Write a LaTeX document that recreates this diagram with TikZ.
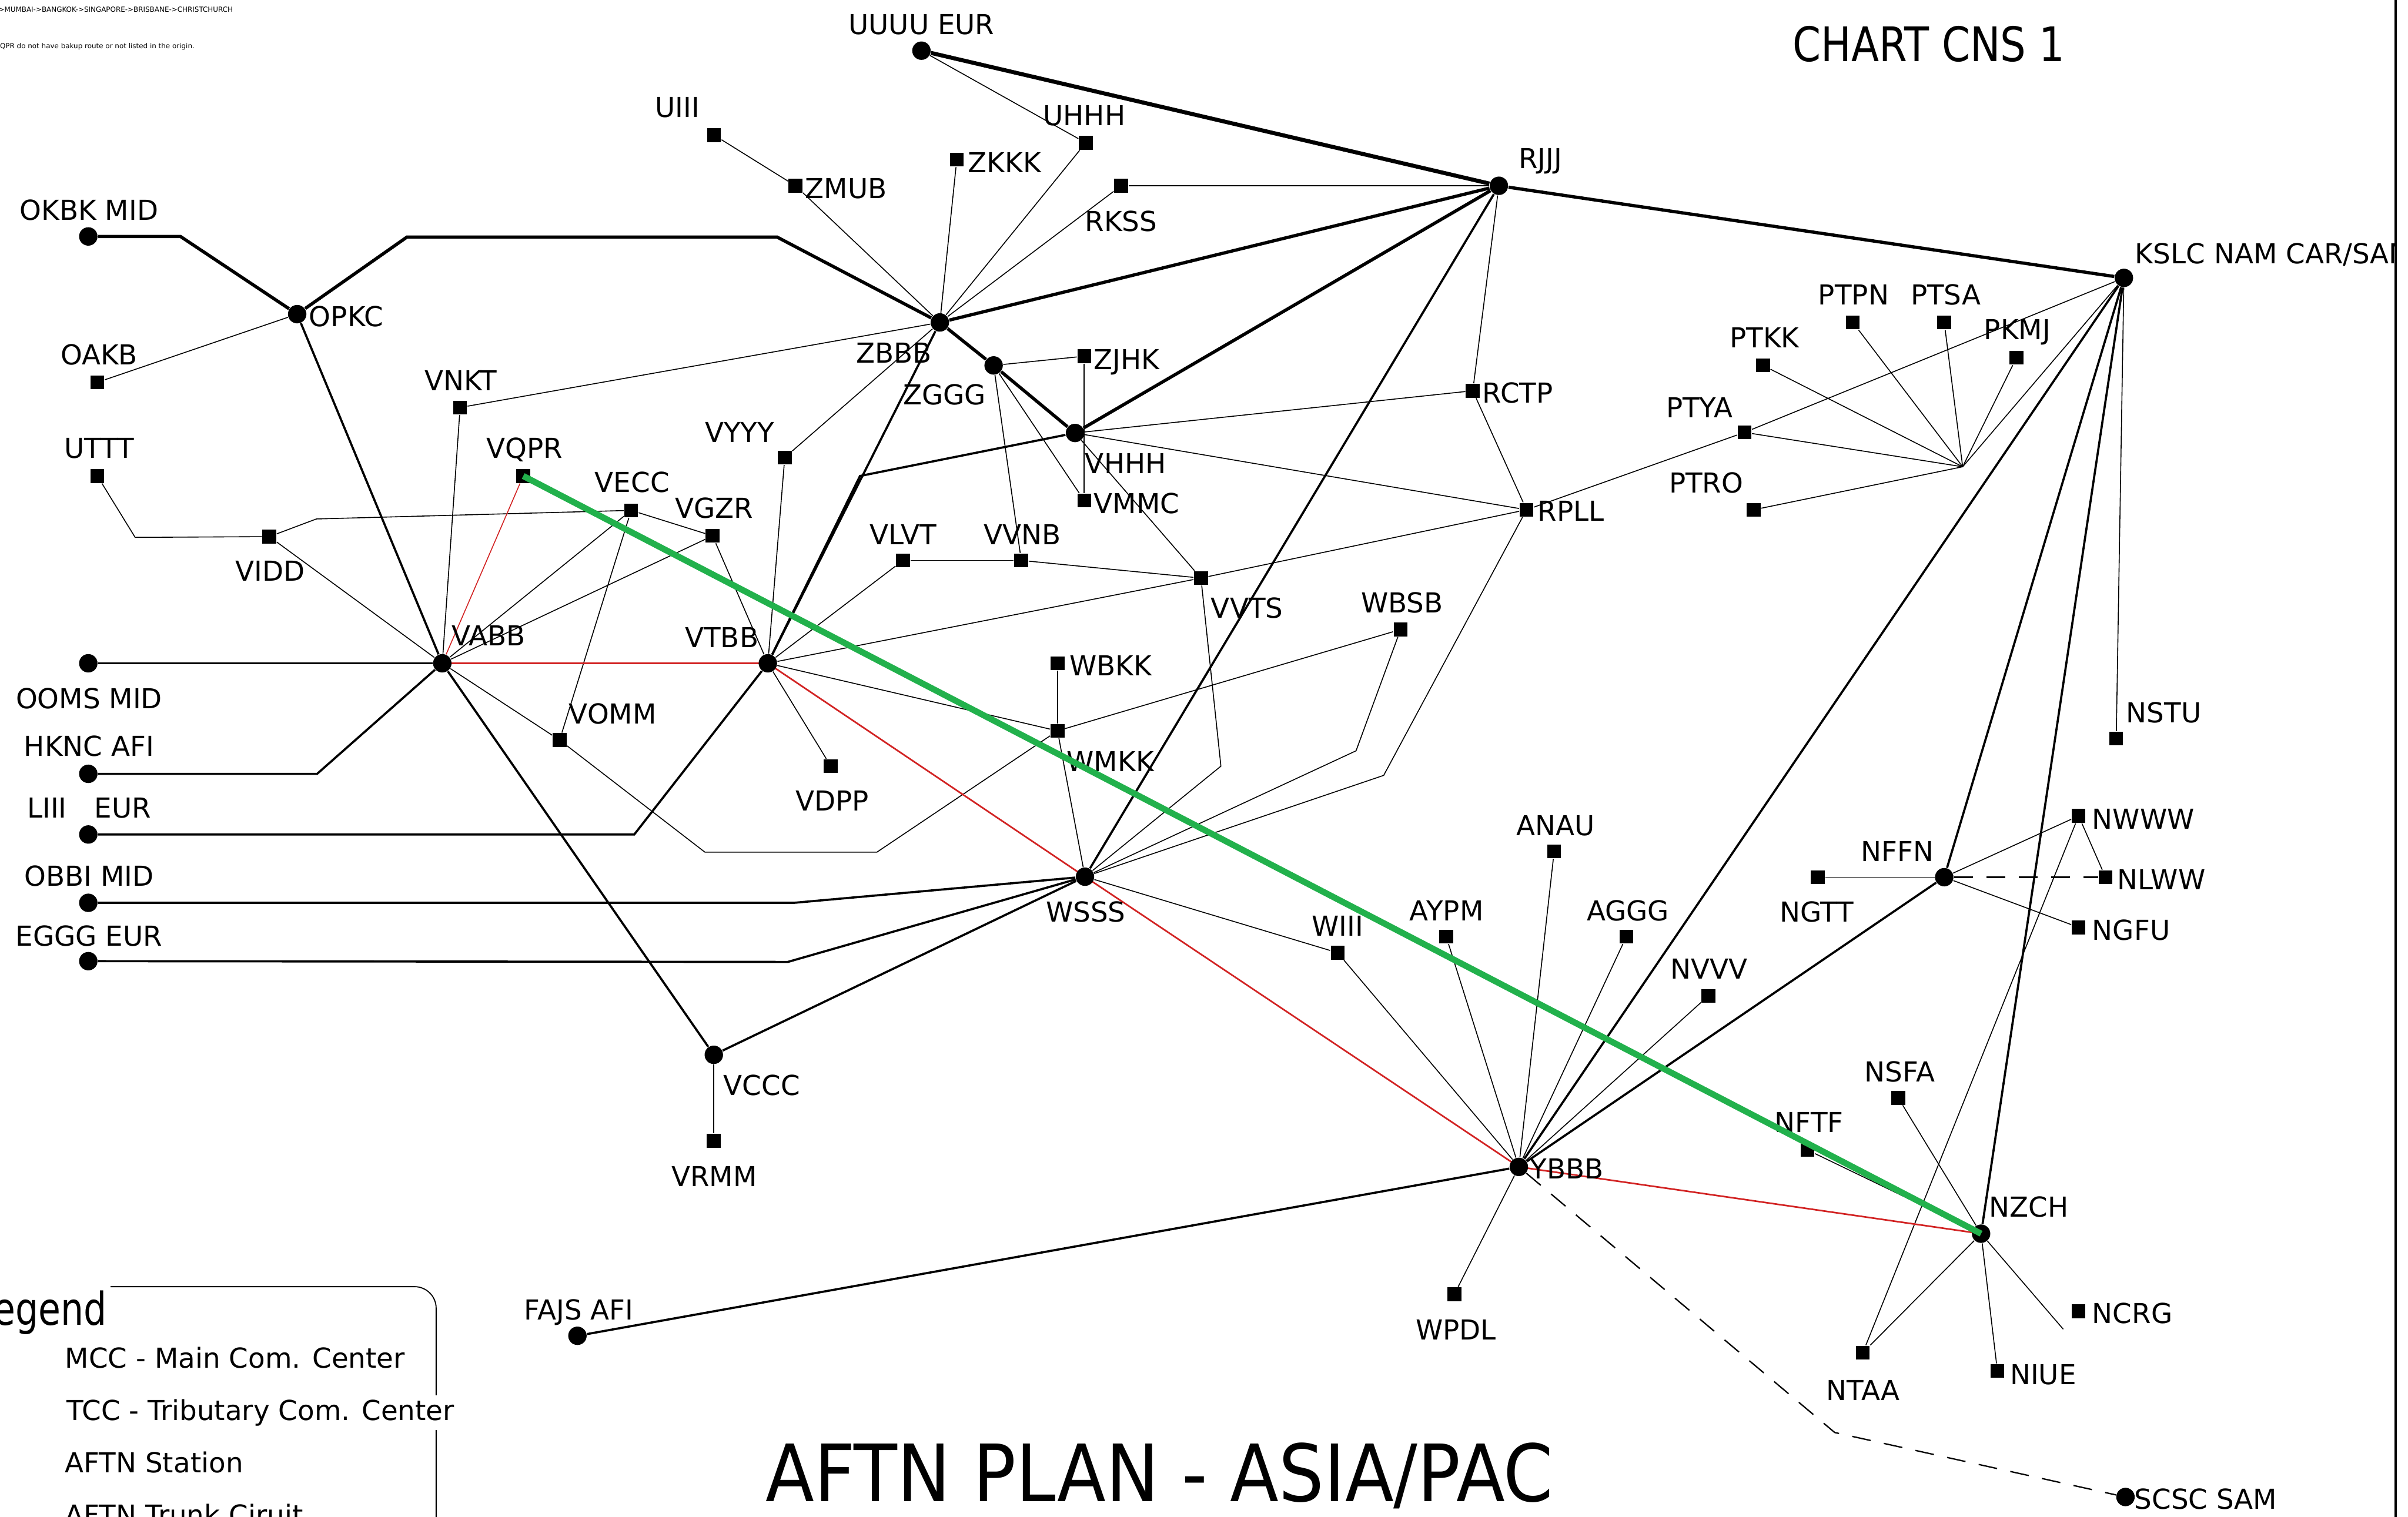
\documentclass[tikz,border=0pt]{standalone}
\usepackage{fontspec}
\setmainfont{DejaVu Sans}
\newfontfamily\titlefont{DejaVu Sans}[FakeStretch=0.9]
\newfontfamily\chartfont{DejaVu Sans}[FakeStretch=0.85]
\newfontfamily\legfont{DejaVu Sans}[FakeStretch=0.8]
\usetikzlibrary{backgrounds}
\definecolor{myred}{RGB}{210,35,35}
\definecolor{mygreen}{RGB}{34,177,76}
\tikzset{
 mcc/.style={circle, fill=black, inner sep=0pt, minimum size=0.24cm},
 aftn/.style={rectangle, fill=black, inner sep=0pt, minimum size=0.18cm},
 lbl/.style={font=\fontsize{10.2}{12}\selectfont, inner sep=0pt, text height=7.44pt, text depth=0pt},
 trunk/.style={line width=1.2pt},
 midl/.style={line width=0.8pt},
 thinl/.style={line width=0.35pt},
 redl/.style={draw=myred, line width=0.6pt},
 redthin/.style={draw=myred, line width=0.35pt},
 greenl/.style={draw=mygreen, line width=2.3pt},
 dashl/.style={line width=0.5pt, dash pattern=on 7pt off 5pt},
 legtxt/.style={font=\fontsize{10.2}{12}\selectfont, inner sep=0pt, anchor=base west},
}
\begin{document}
\begin{tikzpicture}[x=0.02cm,y=-0.02cm]
\useasboundingbox (0,0) rectangle (1568,988);

% ---------- MCC nodes ----------
\node[mcc] (UUUU) at (600,33) {};
\node[mcc] (RJJJ) at (976,121) {};
\node[mcc] (KSLC) at (1383,181) {};
\node[mcc] (OKBK) at (57.5,154) {};
\node[mcc] (OPKC) at (193.5,204.6) {};
\node[mcc] (ZBBB) at (612,210) {};
\node[mcc] (ZGGG) at (647,238) {};
\node[mcc] (VHHH) at (700,282) {};
\node[mcc] (VABB) at (288,432) {};
\node[mcc] (VTBB) at (500,432) {};
\node[mcc] (OOMS) at (57.5,432) {};
\node[mcc] (HKNC) at (57.5,504) {};
\node[mcc] (LIII) at (57.5,543.5) {};
\node[mcc] (OBBI) at (57.5,588) {};
\node[mcc] (EGGG) at (57.5,626) {};
\node[mcc] (WSSS) at (706.5,571) {};
\node[mcc] (VCCC) at (464.8,687) {};
\node[mcc] (NFFN) at (1266,571.3) {};
\node[mcc] (YBBB) at (989,760) {};
\node[mcc] (NZCH) at (1290,803.5) {};
\node[mcc] (FAJS) at (376,870) {};
\node[mcc] (SCSC) at (1384,975) {};

% ---------- AFTN stations ----------
\node[aftn] (UIII) at (465,88) {};
\node[aftn] (UHHH) at (707,93) {};
\node[aftn] (ZKKK) at (623,104) {};
\node[aftn] (ZMUB) at (518,121) {};
\node[aftn] (RKSS) at (730,121) {};
\node[aftn] (OAKB) at (63.4,249) {};
\node[aftn] (ZJHK) at (706,232) {};
\node[aftn] (RCTP) at (959,254.5) {};
\node[aftn] (VNKT) at (299.6,265.4) {};
\node[aftn] (VYYY) at (511,298) {};
\node[aftn] (UTTT) at (63.4,310) {};
\node[aftn] (VQPR) at (340.7,310) {};
\node[aftn] (VMMC) at (706,326) {};
\node[aftn] (VECC) at (411,332.4) {};
\node[aftn] (RPLL) at (994,332) {};
\node[aftn] (VGZR) at (464,349) {};
\node[aftn] (VIDD) at (175.4,349.5) {};
\node[aftn] (VLVT) at (588,365) {};
\node[aftn] (VVNB) at (665,365) {};
\node[aftn] (VVTS) at (782,376.5) {};
\node[aftn] (WBSB) at (912,410) {};
\node[aftn] (WBKK) at (688.6,432) {};
\node[aftn] (WMKK) at (688.6,476) {};
\node[aftn] (VOMM) at (364.4,482) {};
\node[aftn] (VDPP) at (541,499) {};
\node[aftn] (NSTU) at (1378,481) {};
\node[aftn] (NWWW) at (1353.5,531.4) {};
\node[aftn] (ANAU) at (1012,554.5) {};
\node[aftn] (NGTT) at (1183.7,571.3) {};
\node[aftn] (NLWW) at (1371,571.3) {};
\node[aftn] (NGFU) at (1353.5,604) {};
\node[aftn] (AYPM) at (941.7,610) {};
\node[aftn] (AGGG) at (1059,610) {};
\node[aftn] (WIII) at (871,620.5) {};
\node[aftn] (NVVV) at (1112.4,648.6) {};
\node[aftn] (NSFA) at (1236,715) {};
\node[aftn] (VRMM) at (464.8,743) {};
\node[aftn] (NFTF) at (1177,749) {};
\node[aftn] (WPDL) at (947,843) {};
\node[aftn] (NCRG) at (1353.5,854) {};
\node[aftn] (NTAA) at (1213,881) {};
\node[aftn] (NIUE) at (1300.6,892.8) {};
\node[aftn] (PTPN) at (1206.5,210) {};
\node[aftn] (PTSA) at (1266,210) {};
\node[aftn] (PKMJ) at (1313,233) {};
\node[aftn] (PTKK) at (1148,238) {};
\node[aftn] (PTYA) at (1136,281.6) {};
\node[aftn] (PTRO) at (1142,332) {};

% ---------- bend points ----------
\coordinate (c1) at (117.5,154);
\coordinate (c2) at (265,154.4);
\coordinate (c3) at (506,154.4);
\coordinate (c4) at (560,310);
\coordinate (c5) at (206.5,504);
\coordinate (c6) at (413,543.5);
\coordinate (c7) at (517,588);
\coordinate (c8) at (513,626.5);
\coordinate (hub) at (1278,304);
\coordinate (cUT) at (88,350);
\coordinate (cVI) at (206,338);
\coordinate (cVO1) at (459,555);
\coordinate (cVO2) at (571,555);
\coordinate (cVV) at (795,499);
\coordinate (cWB) at (883,489);
\coordinate (cRP) at (901,505);
\coordinate (cNC) at (1343.5,865.7);
\coordinate (cSC) at (1194.7,933);

\begin{pgfonlayer}{background}
% trunk circuits
\draw[trunk] (OKBK) -- (c1) -- (OPKC);
\draw[trunk] (OPKC) -- (c2) -- (c3) -- (ZBBB);
\draw[trunk] (ZBBB) -- (RJJJ);
\draw[line width=1.5pt] (UUUU) -- (RJJJ);
\draw[trunk] (RJJJ) -- (KSLC);
\draw[trunk] (ZBBB) -- (ZGGG) -- (VHHH);
\draw[trunk] (VHHH) -- (RJJJ);
\draw[midl] (VHHH) -- (c4) -- (VTBB);
\draw[midl] (ZBBB) -- (VTBB);
\draw[midl] (OPKC) -- (VABB);
\draw[midl] (OOMS) -- (VABB);
\draw[midl] (HKNC) -- (c5) -- (VABB);
\draw[midl] (LIII) -- (c6) -- (VTBB);
\draw[midl] (OBBI) -- (c7) -- (WSSS);
\draw[midl] (EGGG) -- (c8) -- (WSSS);
\draw[midl] (WSSS) -- (VCCC);
\draw[midl] (VABB) -- (VCCC);
\draw[midl] (WSSS) -- (RJJJ);
\draw[midl] (YBBB) -- (KSLC);
\draw[midl] (YBBB) -- (NFFN);
\draw[midl] (NFFN) -- (KSLC);
\draw[midl] (NZCH) -- (KSLC);
\draw[midl] (YBBB) -- (FAJS);

% tributary / station links
\draw[thinl] (UUUU) -- (UHHH);
\draw[thinl] (UHHH) -- (ZBBB);
\draw[thinl] (UIII) -- (ZMUB);
\draw[thinl] (ZMUB) -- (ZBBB);
\draw[thinl] (ZKKK) -- (ZBBB);
\draw[thinl] (RKSS) -- (ZBBB);
\draw[thinl] (RKSS) -- (RJJJ);
\draw[thinl] (OAKB) -- (OPKC);
\draw[thinl] (VNKT) -- (ZBBB);
\draw[thinl] (VNKT) -- (VABB);
\draw[thinl] (ZBBB) -- (VYYY);
\draw[thinl] (VYYY) -- (VTBB);
\draw[thinl] (ZGGG) -- (ZJHK);
\draw[thinl] (ZJHK) -- (VMMC);
\draw[thinl] (ZGGG) -- (VMMC);
\draw[thinl] (ZGGG) -- (VVNB);
\draw[thinl] (VHHH) -- (VVTS);
\draw[thinl] (VHHH) -- (RCTP);
\draw[thinl] (VHHH) -- (RPLL);
\draw[thinl] (RJJJ) -- (RCTP);
\draw[thinl] (RCTP) -- (RPLL);
\draw[thinl] (RPLL) -- (PTYA) -- (KSLC);
\draw[thinl] (hub) -- (PTKK);
\draw[thinl] (hub) -- (PTPN);
\draw[thinl] (hub) -- (PTSA);
\draw[thinl] (hub) -- (PKMJ);
\draw[thinl] (hub) -- (PTYA);
\draw[thinl] (hub) -- (PTRO);
\draw[thinl] (hub) -- (KSLC);
\draw[thinl] (KSLC) -- (NSTU);
\draw[thinl] (UTTT) -- (cUT) -- (VIDD);
\draw[thinl] (VIDD) -- (cVI) -- (VECC);
\draw[thinl] (VIDD) -- (VABB);
\draw[thinl] (VECC) -- (VGZR);
\draw[thinl] (VECC) -- (VABB);
\draw[thinl] (VECC) -- (VOMM);
\draw[thinl] (VGZR) -- (VABB);
\draw[thinl] (VGZR) -- (VTBB);
\draw[thinl] (VABB) -- (VOMM);
\draw[thinl] (VOMM) -- (cVO1) -- (cVO2) -- (WMKK);
\draw[thinl] (VTBB) -- (VLVT);
\draw[thinl] (VLVT) -- (VVNB);
\draw[thinl] (VVNB) -- (VVTS);
\draw[thinl] (VTBB) -- (VVTS);
\draw[thinl] (VVTS) -- (RPLL);
\draw[thinl] (VTBB) -- (VDPP);
\draw[thinl] (VTBB) -- (WMKK);
\draw[thinl] (WMKK) -- (WBKK);
\draw[thinl] (WMKK) -- (WBSB);
\draw[thinl] (WSSS) -- (WMKK);
\draw[thinl] (WSSS) -- (cVV) -- (VVTS);
\draw[thinl] (WSSS) -- (cWB) -- (WBSB);
\draw[thinl] (WSSS) -- (cRP) -- (RPLL);
\draw[thinl] (WSSS) -- (WIII);
\draw[thinl] (WIII) -- (YBBB);
\draw[thinl] (YBBB) -- (AYPM);
\draw[thinl] (YBBB) -- (ANAU);
\draw[thinl] (YBBB) -- (AGGG);
\draw[thinl] (YBBB) -- (NVVV);
\draw[thinl] (YBBB) -- (WPDL);
\draw[thinl] (VCCC) -- (VRMM);
\draw[thinl] (NFFN) -- (NGTT);
\draw[thinl] (NFFN) -- (NWWW);
\draw[thinl] (NFFN) -- (NGFU);
\draw[thinl] (NWWW) -- (NLWW);
\draw[thinl] (NWWW) -- (NTAA);
\draw[thinl] (NZCH) -- (NTAA);
\draw[thinl] (NZCH) -- (NIUE);
\draw[thinl] (NZCH) -- (cNC);
\draw[thinl] (NZCH) -- (NSFA);
\draw[thinl] (NFTF) -- (NZCH);
\draw[dashl] (NFFN) -- (NLWW);
\draw[dashl] (YBBB) -- (cSC) -- (SCSC);

% backup route (red)
\draw[redthin] (VQPR) -- (VABB);
\draw[redl] (VABB.center) -- (VTBB.center) -- (WSSS.center) -- (YBBB.center) -- (NZCH.center);
\end{pgfonlayer}

% ---------- labels ----------
\node[lbl] (lUUUU) at (600,16) {UUUU EUR};
\node[lbl] (lUIII) at (441,70) {UIII};
\node[lbl] (lUHHH) at (706,75) {UHHH};
\node[lbl, anchor=west] (lZKKK) at (630,106) {ZKKK};
\node[lbl, anchor=west] (lZMUB) at (524,122.5) {ZMUB};
\node[lbl] (lRKSS) at (730,144) {RKSS};
\node[lbl] (lRJJJ) at (1003,103) {RJJJ};
\begin{scope}
\clip (0,0) rectangle (1559,988);
\node[lbl, anchor=west] (lKSLC) at (1390,165) {KSLC NAM CAR/SAM};
\end{scope}
\node[lbl] (lOKBK) at (58,137) {OKBK MID};
\node[lbl, anchor=west] (lOPKC) at (201,206) {OPKC};
\node[lbl] (lOAKB) at (64.5,231) {OAKB};
\node[lbl] (lZBBB) at (582,230) {ZBBB};
\node[lbl] (lZGGG) at (615,257) {ZGGG};
\node[lbl, anchor=west] (lZJHK) at (712,234) {ZJHK};
\node[lbl] (lVHHH) at (733,302) {VHHH};
\node[lbl, anchor=west] (lVMMC) at (712,328) {VMMC};
\node[lbl, anchor=west] (lRCTP) at (965,255.7) {RCTP};
\node[lbl, anchor=west] (lRPLL) at (1001,333) {RPLL};
\node[lbl] (lVNKT) at (300,248) {VNKT};
\node[lbl] (lUTTT) at (64.5,292) {UTTT};
\node[lbl] (lVQPR) at (341.6,292) {VQPR};
\node[lbl] (lVYYY) at (481.6,281.5) {VYYY};
\node[lbl] (lVECC) at (411.6,314) {VECC};
\node[lbl] (lVGZR) at (465,331) {VGZR};
\node[lbl] (lVIDD) at (176,372) {VIDD};
\node[lbl] (lVLVT) at (588,348) {VLVT};
\node[lbl] (lVVNB) at (665.7,348) {VVNB};
\node[lbl] (lVVTS) at (812,396) {VVTS};
\node[lbl] (lWBSB) at (913,392.7) {WBSB};
\node[lbl] (lVABB) at (318,414) {VABB};
\node[lbl] (lVTBB) at (470,415) {VTBB};
\node[lbl, anchor=west] (lWBKK) at (696,433.6) {WBKK};
\node[lbl] (lOOMS) at (58,455) {OOMS MID};
\node[lbl] (lVOMM) at (399,465) {VOMM};
\node[lbl] (lWMKK) at (723,496) {WMKK};
\node[lbl] (lHKNC) at (58,486) {HKNC AFI};
\node[lbl] (lVDPP) at (542,521.6) {VDPP};
\node[lbl] (lLIII) at (58,526) {LIII\hspace{1em}EUR};
\node[lbl] (lOBBI) at (58,570.5) {OBBI MID};
\node[lbl] (lEGGG) at (58,609.5) {EGGG EUR};
\node[lbl] (lWSSS) at (707,594) {WSSS};
\node[lbl] (lANAU) at (1013,537.5) {ANAU};
\node[lbl] (lAYPM) at (942,593) {AYPM};
\node[lbl] (lAGGG) at (1060,593) {AGGG};
\node[lbl] (lWIII) at (871,603) {WIII};
\node[lbl] (lNVVV) at (1113,631) {NVVV};
\node[lbl] (lNFFN) at (1235.6,554.6) {NFFN};
\node[lbl] (lNGTT) at (1183,594) {NGTT};
\node[lbl, anchor=west] (lNWWW) at (1362,533.3) {NWWW};
\node[lbl, anchor=west] (lNLWW) at (1378.5,572.8) {NLWW};
\node[lbl, anchor=west] (lNGFU) at (1362,605.6) {NGFU};
\node[lbl] (lNSFA) at (1237,698) {NSFA};
\node[lbl] (lNFTF) at (1178,731) {NFTF};
\node[lbl] (lVCCC) at (496,707) {VCCC};
\node[lbl] (lVRMM) at (465,766) {VRMM};
\node[lbl, anchor=west] (lYBBB) at (996,761) {YBBB};
\node[lbl] (lNZCH) at (1321,786) {NZCH};
\node[lbl] (lFAJS) at (377,853) {FAJS AFI};
\node[lbl] (lWPDL) at (948,866) {WPDL};
\node[lbl, anchor=west] (lNCRG) at (1362,855.4) {NCRG};
\node[lbl] (lNTAA) at (1213,905.6) {NTAA};
\node[lbl, anchor=west] (lNIUE) at (1308.5,895) {NIUE};
\node[lbl, anchor=west] (lSCSC) at (1389.5,976.5) {SCSC SAM};
\node[lbl] (lNSTU) at (1409,464) {NSTU};
\node[lbl] (lPTPN) at (1207,192) {PTPN};
\node[lbl] (lPTSA) at (1267,192) {PTSA};
\node[lbl] (lPTKK) at (1149,219.7) {PTKK};
\node[lbl] (lPKMJ) at (1313.6,214.5) {PKMJ};
\node[lbl] (lPTYA) at (1106.7,265.6) {PTYA};
\node[lbl] (lPTRO) at (1111,314.6) {PTRO};

% highlighted route (green)
\draw[greenl] (VQPR.center) -- (NZCH.center);

% ---------- titles, notes ----------
\node[font=\chartfont\fontsize{17.65}{20}\selectfont, inner sep=0pt, anchor=base] (chart) at (1256,40) {CHART CNS 1};
\node[font=\titlefont\fontsize{29.3}{32}\selectfont, inner sep=0pt, anchor=base] (title) at (755,978) {AFTN PLAN - ASIA/PAC};
\node[font=\fontsize{2.6}{3}\selectfont, inner sep=0pt, anchor=base east] (note1) at (152,8) {->MUMBAI->BANGKOK->SINGAPORE->BRISBANE->CHRISTCHURCH};
\node[font=\fontsize{2.6}{3}\selectfont, inner sep=0pt, anchor=base east] (note2) at (127,31.5) {VQPR do not have bakup route or not listed in the origin.};

% right border
\draw[line width=0.9pt] (1560,0) -- (1560,988);

% ---------- legend ----------
\draw[line width=0.4pt, rounded corners=8] (72,838) -- (284,838) -- (284,995);
\node[font=\legfont\fontsize{16.8}{19}\selectfont, inner sep=0pt, anchor=base east] (leghead) at (70,863) {Legend};
\node[legtxt] (leg1) at (42,891) {MCC - Main Com. Center};
\node[legtxt, fill=white, inner sep=1.5pt] (leg2) at (40.5,925) {TCC - Tributary Com. Center};
\node[legtxt] (leg3) at (42,959) {AFTN Station};
\node[legtxt] (leg4) at (42,993) {AFTN Trunk Ciruit};
\end{tikzpicture}
\end{document}
